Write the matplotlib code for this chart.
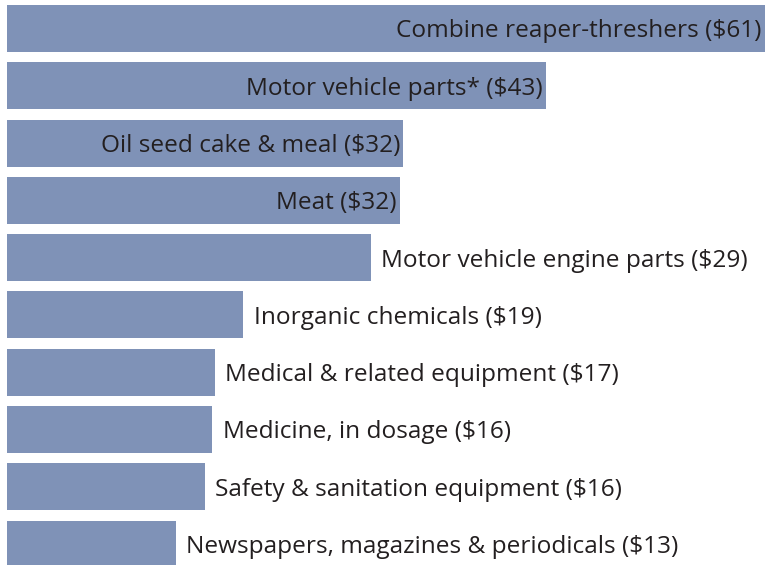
import matplotlib
matplotlib.use("Agg")
import matplotlib.pyplot as plt

labels = [
    "Combine reaper-threshers ($61)",
    "Motor vehicle parts* ($43)",
    "Oil seed cake & meal ($32)",
    "Meat ($32)",
    "Motor vehicle engine parts ($29)",
    "Inorganic chemicals ($19)",
    "Medical & related equipment ($17)",
    "Medicine, in dosage ($16)",
    "Safety & sanitation equipment ($16)",
    "Newspapers, magazines & periodicals ($13)",
]
values = [61.2, 43.1, 31.7, 31.4, 29.1, 18.9, 16.6, 16.4, 15.8, 13.5]
inside = [True, True, True, True, False, False, False, False, False, False]

bar_color = "#7f92b7"
text_color = "#231f20"

fig = plt.figure(figsize=(7.65, 5.65), dpi=100)
ax = fig.add_axes([0, 0, 1, 1])

ypos = list(range(len(values)))
ax.barh(ypos, values, height=0.82, color=bar_color, left=0)

for y, v, lab, ins in zip(ypos, values, labels, inside):
    if ins:
        ax.text(min(v, 60.6) - 0.25, y + 0.05, lab, ha="right", va="center",
                fontsize=17.6, color=text_color, family="Open Sans")
    else:
        ax.text(v + 0.85, y + 0.05, lab, ha="left", va="center",
                fontsize=17.6, color=text_color, family="Open Sans")

ax.set_xlim(-0.56, 60.64)
ax.set_ylim(9.363, -0.497)
ax.axis("off")

fig.savefig("out.png", dpi=100)
